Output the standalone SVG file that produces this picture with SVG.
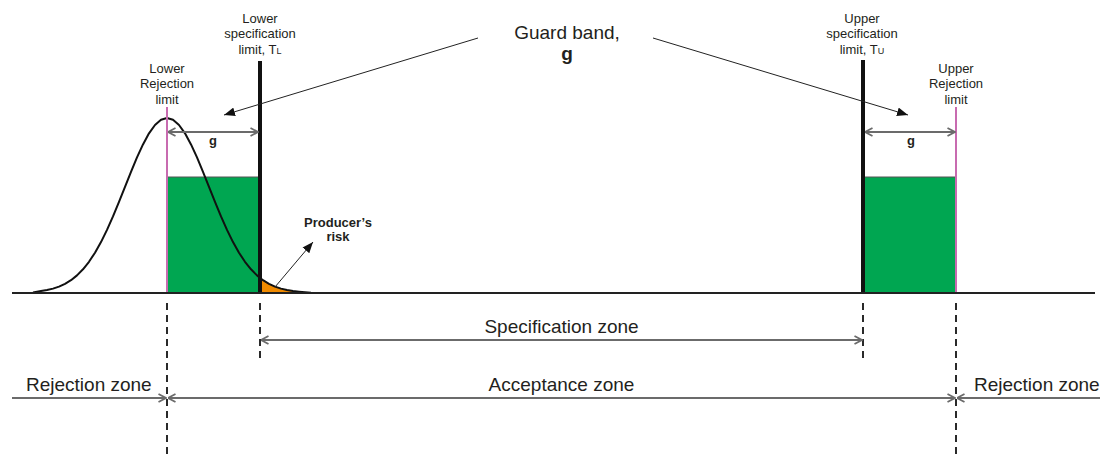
<svg xmlns="http://www.w3.org/2000/svg" width="1105" height="459" viewBox="0 0 1105 459">
<defs>
<style>
text{font-family:"Liberation Sans",Arial,sans-serif;fill:#231f20}
.small{font-size:13px;text-anchor:middle}
.big{font-size:19px}
.bold{font-weight:bold}
.mid{text-anchor:middle}
.gray{stroke:#6b6b6b;stroke-width:2;fill:none}
.dash{stroke:#2a2a2a;stroke-width:2;stroke-dasharray:7 5;fill:none}
.spec{stroke:#111;stroke-width:4}
.rej{stroke:#c86bb0;stroke-width:2}
.green{fill:#00a651}
.thin{stroke:#222;stroke-width:1;fill:none}
</style>
<marker id="chev" viewBox="0 0 10 10" refX="9.5" refY="5" markerWidth="10" markerHeight="10" markerUnits="userSpaceOnUse" orient="auto-start-reverse">
<path d="M2,1 L9.5,5 L2,9" fill="none" stroke="#6b6b6b" stroke-width="1.8"/>
</marker>
<marker id="tri" viewBox="0 0 10 8" refX="10" refY="4" markerWidth="11" markerHeight="9" markerUnits="userSpaceOnUse" orient="auto">
<path d="M0,0 L10,4 L0,8 Z" fill="#111"/>
</marker>
</defs>
<rect width="1105" height="459" fill="#fff"/>

<g id="lower-guard-band">
<rect class="green" x="167" y="177" width="92" height="116"/>
<line x1="167" y1="177" x2="259" y2="177" stroke="#555" stroke-width="1"/>
</g>
<g id="upper-guard-band">
<rect class="green" x="864" y="177" width="92" height="116"/>
<line x1="864" y1="177" x2="956" y2="177" stroke="#555" stroke-width="1"/>
</g>

<g id="producers-risk-area">
<path d="M262,293 L262,279.5 L263,280.2 L269,283.8 L275,286.6 L281,288.6 L287,290 L293,291.1 L299,291.7 L305,292.2 L310,293 Z" fill="#f08a00"/>
</g>

<g id="distribution-curve">
<path d="M33,292.4 L41,291.1 L47,290 L53,288.6 L59,286.6 L65,283.8 L71,280.2 L77,275.4 L83,269.3 L89,261.8 L95,252.7 L101,242.1 L107,229.9 L113,216.4 L119,201.9 L125,186.9 L131,171.8 L137,157.4 L143,144.4 L149,133.3 L155,125 L161,119.8 L167,118 L173,119.8 L179,125 L185,133.3 L191,144.4 L197,157.4 L203,171.8 L209,186.9 L215,201.9 L221,216.4 L227,229.9 L233,242.1 L239,252.7 L245,261.8 L251,269.3 L257,275.4 L263,280.2 L269,283.8 L275,286.6 L281,288.6 L287,290 L293,291.1 L299,291.7 L305,292.2 L311,292.8" fill="none" stroke="#111" stroke-width="2" stroke-linejoin="round"/>
</g>

<g id="lower-rejection-limit">
<line class="rej" x1="167" y1="107" x2="167" y2="293"/>
<text class="small" x="167" y="72.5">Lower</text>
<text class="small" x="167" y="88">Rejection</text>
<text class="small" x="167" y="103.5">limit</text>
</g>
<g id="lower-specification-limit">
<line class="spec" x1="260" y1="61" x2="260" y2="293"/>
<text class="small" x="260" y="22.5">Lower</text>
<text class="small" x="260" y="38">specification</text>
<text class="small" x="260" y="53.5">limit, T<tspan font-size="9">L</tspan></text>
</g>
<g id="upper-specification-limit">
<line class="spec" x1="863" y1="60" x2="863" y2="293"/>
<text class="small" x="862" y="22.5">Upper</text>
<text class="small" x="862" y="38">specification</text>
<text class="small" x="862" y="53.5">limit, T<tspan font-size="9">U</tspan></text>
</g>
<g id="upper-rejection-limit">
<line class="rej" x1="956" y1="107" x2="956" y2="293"/>
<text class="small" x="956" y="72.5">Upper</text>
<text class="small" x="956" y="88">Rejection</text>
<text class="small" x="956" y="103.5">limit</text>
</g>

<g id="baseline">
<line x1="12" y1="293" x2="1095" y2="293" stroke="#222" stroke-width="2"/>
</g>

<g id="guard-band-label">
<text class="big mid" x="567" y="39">Guard band,</text>
<text class="big mid bold" x="567" y="60">g</text>
</g>
<g id="g-label-lower">
<text class="small bold" x="213" y="144.5">g</text>
</g>
<g id="g-label-upper">
<text class="small bold" x="911" y="144.5">g</text>
</g>
<g id="producers-risk-label">
<text class="small bold" x="338" y="226.5">Producer’s</text>
<text class="small bold" x="338" y="240.5">risk</text>
</g>
<g id="zone-labels">
<text class="big mid" x="561.5" y="333">Specification zone</text>
<text class="big mid" x="561.5" y="391">Acceptance zone</text>
<text class="big" x="26" y="391">Rejection zone</text>
<text class="big" x="974" y="391">Rejection zone</text>
</g>

<g id="connectors">
<line class="dash" x1="167" y1="303" x2="167" y2="459"/>
<line class="dash" x1="260" y1="303" x2="260" y2="358"/>
<line class="dash" x1="863" y1="303" x2="863" y2="358"/>
<line class="dash" x1="956" y1="303" x2="956" y2="459"/>
<line class="gray" x1="168" y1="132" x2="258" y2="132" marker-start="url(#chev)" marker-end="url(#chev)"/>
<line class="gray" x1="865" y1="132" x2="955" y2="132" marker-start="url(#chev)" marker-end="url(#chev)"/>
<line class="gray" x1="261" y1="340" x2="862" y2="340" marker-start="url(#chev)" marker-end="url(#chev)"/>
<line class="gray" x1="168" y1="398" x2="955" y2="398" marker-start="url(#chev)" marker-end="url(#chev)"/>
<line class="gray" x1="12" y1="398" x2="166" y2="398" marker-end="url(#chev)"/>
<line class="gray" x1="1100" y1="398" x2="957" y2="398" marker-end="url(#chev)"/>
<line class="thin" x1="478" y1="38" x2="224" y2="115" marker-end="url(#tri)"/>
<line class="thin" x1="653" y1="38" x2="908" y2="115" marker-end="url(#tri)"/>
<line class="thin" x1="275" y1="287" x2="313" y2="242" marker-end="url(#tri)"/>
</g>
</svg>
